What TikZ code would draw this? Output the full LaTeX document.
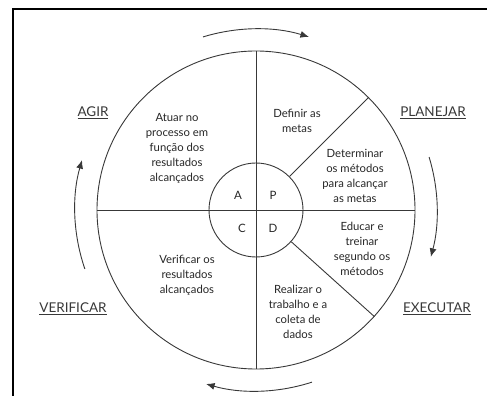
\documentclass[tikz,border=0pt]{standalone}
\usepackage{fontspec}
\setmainfont{Lato}
\usetikzlibrary{arrows.meta}
\begin{document}
\begin{tikzpicture}[x=1pt,y=1pt,
  ring/.style={circle, draw=black!78, line width=0.9pt, inner sep=0pt},
  ln/.style={draw=black!78, line width=0.9pt},
  txt/.style={align=center, font=\fontsize{11.3}{15}\selectfont, text=black!85, inner sep=0pt},
  letter/.style={font=\fontsize{11.5}{14}\selectfont, text=black!85, inner sep=0pt},
  lbl/.style={font=\fontsize{13.5}{16}\selectfont, text=black!78, inner sep=0pt},
  cyc/.style={draw=black!78, line width=0.9pt, -{Latex[length=8.5pt,width=7pt]}}]
\useasboundingbox (0,0) rectangle (487,396);
\draw[line width=2pt] (13,0) -- (13,386.5) -- (487,386.5);
\coordinate (O) at (256,186);
\node[ring, minimum size=318pt] (outer) at (O) {};
\node[ring, minimum size=94pt] (inner) at (O) {};
\draw[ln] (outer.north) -- (outer.south);
\draw[ln] (outer.west) -- (outer.east);
\draw[ln] (inner.45) -- (outer.45);
\draw[ln] (inner.-42) -- (outer.-42);
% cycle arrows
\draw[cyc] ([shift={(107:181)}]O) arc[start angle=107, end angle=73, radius=181];
\draw[cyc] ([shift={(17:181)}]O) arc[start angle=17, end angle=-15, radius=181];
\draw[cyc] ([shift={(-72:181)}]O) arc[start angle=-72, end angle=-106, radius=181];
\draw[cyc] ([shift={(199:181)}]O) arc[start angle=199, end angle=164, radius=181];
% labels
\node[lbl] (agir) at (93,283) {\underline{AGIR}};
\node[lbl] (planejar) at (433,283) {\underline{PLANEJAR}};
\node[lbl] (verificar) at (73,87) {\underline{VERIFICAR}};
\node[lbl] (executar) at (437,87) {\underline{EXECUTAR}};
% letters
\node[letter] (lA) at (238,201) {A};
\node[letter] (lP) at (273,201) {P};
\node[letter] (lC) at (242,168) {C};
\node[letter] (lD) at (273,168) {D};
% sector texts
\node[txt] (t1) at (177,248) {Atuar no\\processo em\\função dos\\resultados\\alcançados};
\node[txt] (t2) at (297,275) {Definir as\\metas};
\node[txt] (t3) at (355,220) {Determinar\\os métodos\\para alcançar\\as metas};
\node[txt] (t4) at (362,147) {Educar e\\treinar\\segundo os\\métodos};
\node[txt] (t5) at (298,84) {Realizar o\\trabalho e a\\coleta de\\dados};
\node[txt] (t6) at (187,121) {Verificar os\\resultados\\alcançados};
\end{tikzpicture}
\end{document}
